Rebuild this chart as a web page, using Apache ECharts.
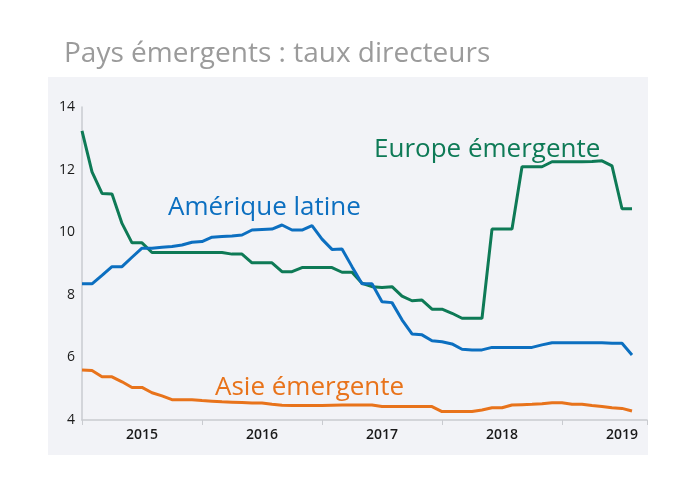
<!DOCTYPE html>
<html>
<head>
<meta charset="utf-8">
<script src="https://cdn.jsdelivr.net/npm/echarts@6/dist/echarts.min.js"></script>
<style>
  html, body { margin: 0; padding: 0; background: #fff; }
  #main { width: 695px; height: 483px; }
</style>
</head>
<body>
<div id="main"></div>
<script>
// mois depuis janvier 2015 (0 = janv. 2015, 55 = août 2019)
const months = Array.from({ length: 56 }, (_, i) => i)
const yearLabels = ["2015", "2016", "2017", "2018", "2019"]
const yTicks = [4, 6, 8, 10, 12, 14]

const europe = [
  13.24, 11.93, 11.24, 11.22, 10.28, 9.66, 9.66, 9.35, 9.35, 9.35, 9.35, 9.35,
  9.35, 9.35, 9.35, 9.3, 9.3, 9.02, 9.02, 9.02, 8.74, 8.74, 8.87, 8.87,
  8.87, 8.87, 8.72, 8.72, 8.37, 8.26, 8.23, 8.26, 7.96, 7.81, 7.83, 7.54,
  7.54, 7.41, 7.25, 7.25, 7.25, 10.1, 10.1, 10.1, 12.09, 12.09, 12.09, 12.25,
  12.25, 12.25, 12.25, 12.26, 12.28, 12.12, 10.75, 10.75,
]
const latam = [
  8.35, 8.35, 8.62, 8.9, 8.9, 9.2, 9.49, 9.49, 9.52, 9.54, 9.59, 9.68,
  9.7, 9.84, 9.86, 9.88, 9.91, 10.07, 10.09, 10.1, 10.23, 10.07, 10.07, 10.21,
  9.78, 9.45, 9.46, 8.9, 8.35, 8.35, 7.78, 7.75, 7.2, 6.75, 6.72, 6.53,
  6.5, 6.43, 6.26, 6.24, 6.24, 6.32, 6.32, 6.32, 6.32, 6.32, 6.4, 6.47,
  6.47, 6.47, 6.47, 6.47, 6.47, 6.45, 6.45, 6.08,
]
const asie = [
  5.6, 5.58, 5.38, 5.38, 5.22, 5.04, 5.04, 4.87, 4.77, 4.65, 4.65, 4.65,
  4.62, 4.6, 4.58, 4.57, 4.56, 4.54, 4.54, 4.5, 4.47, 4.46, 4.46, 4.46,
  4.46, 4.47, 4.48, 4.48, 4.48, 4.48, 4.43, 4.43, 4.43, 4.43, 4.43, 4.43,
  4.27, 4.27, 4.27, 4.27, 4.32, 4.39, 4.39, 4.48, 4.49, 4.5, 4.52, 4.55,
  4.55, 4.5, 4.5, 4.46, 4.43, 4.39, 4.37, 4.29,
]

const FONT = "'Open Sans', 'Noto Sans', sans-serif"
const GREEN = "#0e7a56"
const BLUE = "#0c6fc0"
const ORANGE = "#e8731b"

const pairs = (vals) => vals.map((v, i) => [months[i], v])

const chart = echarts.init(document.getElementById("main"))
const option = {
  backgroundColor: "#fff",
  animation: false,
  title: {
    text: "Pays émergents : taux directeurs",
    left: 59,
    top: 35,
    textStyle: { color: "#9b9b9b", fontSize: 28, fontWeight: "normal", fontFamily: FONT },
  },
  graphic: [
    {
      type: "rect",
      z: -10,
      shape: { x: 48, y: 77, width: 600, height: 378 },
      style: { fill: "#f2f3f7" },
    },
    {
      type: "text",
      style: { text: "Amérique latine", x: 168, y: 221, fill: BLUE, font: "26px " + FONT, verticalAlign: "bottom" },
    },
    {
      type: "text",
      style: { text: "Europe émergente", x: 374, y: 163, fill: GREEN, font: "26px " + FONT, verticalAlign: "bottom" },
    },
    {
      type: "text",
      style: { text: "Asie émergente", x: 215, y: 401, fill: ORANGE, font: "26px " + FONT, verticalAlign: "bottom" },
    },
  ],
  grid: { left: 82, right: 48, top: 107, bottom: 63 },
  xAxis: [
    {
      type: "value",
      min: 0,
      max: 56.5,
      interval: 6,
      axisLine: { show: true, lineStyle: { color: "#c9cbd0", width: 1.5 } },
      axisTick: { show: false },
      splitLine: { show: false },
      axisLabel: {
        color: "#1a1a1a",
        fontSize: 14,
        fontWeight: 600,
        fontFamily: FONT,
        margin: 8,
        showMinLabel: true,
        showMaxLabel: true,
        formatter: (v) => {
          if (v % 12 !== 6) return ""
          return yearLabels[(v - 6) / 12] || ""
        },
      },
    },
    {
      type: "value",
      min: 0,
      max: 56.5,
      interval: 12,
      position: "bottom",
      axisLine: { show: false },
      axisTick: { show: true, length: 5, lineStyle: { color: "#c9cbd0" } },
      axisLabel: { show: false },
      splitLine: { show: false },
    },
  ],
  yAxis: {
    type: "value",
    min: yTicks[0],
    max: yTicks[yTicks.length - 1],
    interval: 2,
    axisLine: { show: true, lineStyle: { color: "#c9cbd0", width: 1.5 } },
    axisTick: { show: false },
    splitLine: { show: false },
    axisLabel: { color: "#1a1a1a", fontSize: 14, fontFamily: FONT, margin: 7 },
  },
  series: [
    { name: "Europe émergente", type: "line", data: pairs(europe), color: GREEN },
    { name: "Amérique latine", type: "line", data: pairs(latam), color: BLUE },
    { name: "Asie émergente", type: "line", data: pairs(asie), color: ORANGE },
  ].map((s) => ({
    ...s,
    xAxisIndex: 0,
    showSymbol: false,
    symbol: "none",
    lineStyle: { width: 3, color: s.color },
  })),
}

option && chart.setOption(option)
</script>
</body>
</html>
